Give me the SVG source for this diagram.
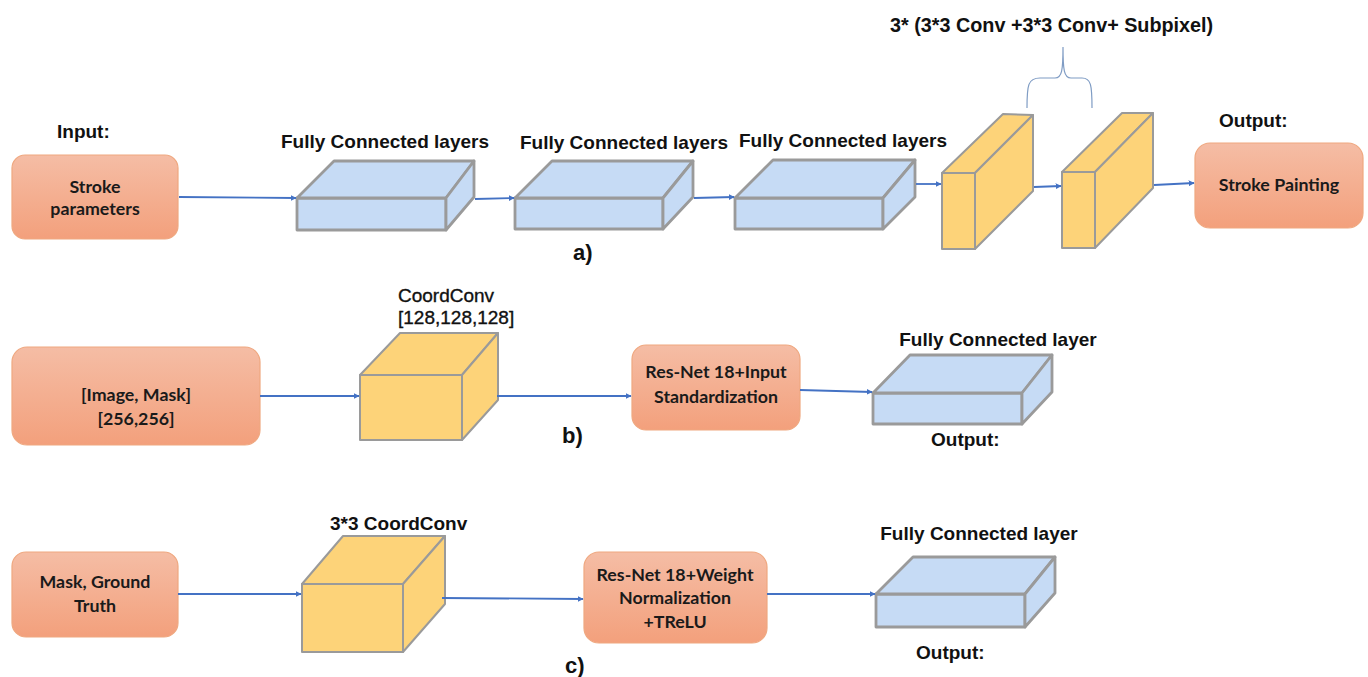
<svg xmlns="http://www.w3.org/2000/svg" width="1368" height="677" viewBox="0 0 1368 677">
<defs>
<linearGradient id="og" x1="0" y1="0" x2="0" y2="1">
<stop offset="0" stop-color="#f5bda5"/>
<stop offset="1" stop-color="#f3a07c"/>
</linearGradient>
<filter id="sb" x="-5%" y="-5%" width="110%" height="110%">
<feGaussianBlur stdDeviation="0.7"/>
</filter>
<marker id="ah" viewBox="0 0 10 10" refX="9" refY="5" markerWidth="6" markerHeight="6" orient="auto" markerUnits="userSpaceOnUse">
<path d="M0,0 L10,5 L0,10 z" fill="#4472c4"/>
</marker>
</defs>
<style>
.ob{fill:url(#og);stroke:#efa880;stroke-width:1.2}
.bl{fill:#c6dbf5;stroke:#9a9a9a;stroke-width:2.8;stroke-linejoin:round}
.ye{fill:#fdd379;stroke:#9a9a9a;stroke-width:2;stroke-linejoin:round}
.bt{font-family:Lato,"Open Sans",sans-serif;font-weight:bold;font-size:17.8px;fill:#1a1a1a;text-anchor:middle}
.lb{font-family:"Liberation Sans",Arial,sans-serif;font-weight:bold;font-size:19px;fill:#111}
.pl{font-size:22px}
.br{font-size:19.8px}
.ln{font-family:"Liberation Sans",Arial,sans-serif;font-size:19px;fill:#111;stroke:#111;stroke-width:0.35}
.cn line,.cn path{stroke:#4472c4;stroke-width:1.8;fill:none}
</style>
<rect width="1368" height="677" fill="#fff"/>

<!-- Row a -->
<g id="input-label"><text class="lb" x="57" y="138">Input:</text></g>
<g id="stroke-params">
<rect class="ob" x="12" y="155" width="166" height="84" rx="13"/>
<text class="bt" x="95" y="193">Stroke</text>
<text class="bt" x="95" y="215">parameters</text>
</g>
<g id="fc1">
<text class="lb" x="385" y="148" text-anchor="middle">Fully Connected layers</text>
<g filter="url(#sb)">
<polygon class="bl" points="297,198 446,198 446,230 297,230"/>
<polygon class="bl" points="297,198 334,161 474,161 446,198"/>
<polygon class="bl" points="446,198 474,161 474,197 446,230"/>
</g>
</g>
<g id="fc2">
<text class="lb" x="624" y="149" text-anchor="middle">Fully Connected layers</text>
<g filter="url(#sb)">
<polygon class="bl" points="515,198 663,198 663,229 515,229"/>
<polygon class="bl" points="515,198 552,161 693,161 663,198"/>
<polygon class="bl" points="663,198 693,161 693,197 663,229"/>
</g>
</g>
<g id="fc3">
<text class="lb" x="843" y="147" text-anchor="middle">Fully Connected layers</text>
<g filter="url(#sb)">
<polygon class="bl" points="735,198 883,198 883,229 735,229"/>
<polygon class="bl" points="735,198 773,160 915,160 883,198"/>
<polygon class="bl" points="883,198 915,160 915,197 883,229"/>
</g>
</g>
<g id="conv1">
<polygon class="ye" points="942,173 975,173 975,249 942,249"/>
<polygon class="ye" points="942,173 1003,114 1033,115 975,173"/>
<polygon class="ye" points="975,173 1033,115 1033,191 975,249"/>
</g>
<g id="conv2">
<polygon class="ye" points="1062,172 1095,172 1095,248 1062,248"/>
<polygon class="ye" points="1062,172 1122,113 1153,113 1095,172"/>
<polygon class="ye" points="1095,172 1153,113 1153,188 1095,248"/>
</g>
<g id="brace-label">
<text class="lb br" x="890" y="32">3* (3*3 Conv +3*3 Conv+ Subpixel)</text>
<path d="M1027,108 C1027,85 1028,78 1040,78 L1055,78 C1062,78 1063,70 1063,47 C1063,70 1064,78 1071,78 L1082,78 C1091,78 1092,85 1092,108" fill="none" stroke="#7f9cc4" stroke-width="1.2"/>
</g>
<g id="output-a">
<text class="lb" x="1219" y="127">Output:</text>
<rect class="ob" x="1195" y="143" width="168" height="85" rx="15"/>
<text class="bt" x="1279" y="191">Stroke Painting</text>
</g>
<g id="label-a"><text class="lb pl" x="573" y="260">a)</text></g>

<!-- Row b -->
<g id="image-mask">
<rect class="ob" x="12" y="347" width="248" height="98" rx="15"/>
<text class="bt" x="136" y="401">[Image, Mask]</text>
<text class="bt" x="136" y="425">[256,256]</text>
</g>
<g id="coordconv-b">
<text class="ln" x="398" y="302">CoordConv</text>
<text class="ln" x="398" y="324">[128,128,128]</text>
<polygon class="ye" points="360,375 462,375 462,440 360,440"/>
<polygon class="ye" points="360,375 400,333 498,333 462,375"/>
<polygon class="ye" points="462,375 498,333 498,400 462,440"/>
</g>
<g id="resnet-b">
<rect class="ob" x="632" y="345" width="168" height="85" rx="14"/>
<text class="bt" x="716" y="378">Res-Net 18+Input</text>
<text class="bt" x="716" y="403">Standardization</text>
</g>
<g id="fc-b">
<text class="lb" x="998" y="346" text-anchor="middle">Fully Connected layer</text>
<g filter="url(#sb)">
<polygon class="bl" points="873,393 1022,393 1022,424 873,424"/>
<polygon class="bl" points="873,393 910,355 1052,355 1022,393"/>
<polygon class="bl" points="1022,393 1052,355 1052,392 1022,424"/>
</g>
<text class="lb" x="931" y="446">Output:</text>
</g>
<g id="label-b"><text class="lb pl" x="562" y="443">b)</text></g>

<!-- Row c -->
<g id="mask-gt">
<rect class="ob" x="12" y="552" width="166" height="85" rx="14"/>
<text class="bt" x="95" y="588">Mask, Ground</text>
<text class="bt" x="95" y="612">Truth</text>
</g>
<g id="coordconv-c">
<text class="lb" x="330" y="530">3*3 CoordConv</text>
<polygon class="ye" points="302,584 403,584 403,652 302,652"/>
<polygon class="ye" points="302,584 343,536 445,536 403,584"/>
<polygon class="ye" points="403,584 445,536 445,604 403,652"/>
</g>
<g id="resnet-c">
<rect class="ob" x="584" y="552" width="183" height="91" rx="15"/>
<text class="bt" x="675" y="581">Res-Net 18+Weight</text>
<text class="bt" x="675" y="604">Normalization</text>
<text class="bt" x="675" y="628">+TReLU</text>
</g>
<g id="fc-c">
<text class="lb" x="979" y="540" text-anchor="middle">Fully Connected layer</text>
<g filter="url(#sb)">
<polygon class="bl" points="876,594 1025,594 1025,627 876,627"/>
<polygon class="bl" points="876,594 913,557 1055,557 1025,594"/>
<polygon class="bl" points="1025,594 1055,557 1055,593 1025,627"/>
</g>
<text class="lb" x="916" y="659">Output:</text>
</g>
<g id="label-c"><text class="lb pl" x="565" y="673">c)</text></g>

<!-- Connectors -->
<g class="cn" id="connectors">
<line x1="179" y1="197" x2="296" y2="198" marker-end="url(#ah)"/>
<line x1="475" y1="199" x2="514" y2="198" marker-end="url(#ah)"/>
<line x1="694" y1="198" x2="734" y2="197" marker-end="url(#ah)"/>
<line x1="916" y1="184" x2="941" y2="184" marker-end="url(#ah)"/>
<line x1="1034" y1="187" x2="1061" y2="186" marker-end="url(#ah)"/>
<line x1="1154" y1="185" x2="1194" y2="183" marker-end="url(#ah)"/>
<line x1="260" y1="396" x2="359" y2="396" marker-end="url(#ah)"/>
<line x1="497" y1="396" x2="631" y2="396" marker-end="url(#ah)"/>
<line x1="800" y1="390" x2="872" y2="392" marker-end="url(#ah)"/>
<line x1="178" y1="594" x2="301" y2="594" marker-end="url(#ah)"/>
<line x1="442" y1="598" x2="583" y2="599" marker-end="url(#ah)"/>
<line x1="767" y1="594" x2="875" y2="594" marker-end="url(#ah)"/>
</g>
</svg>
